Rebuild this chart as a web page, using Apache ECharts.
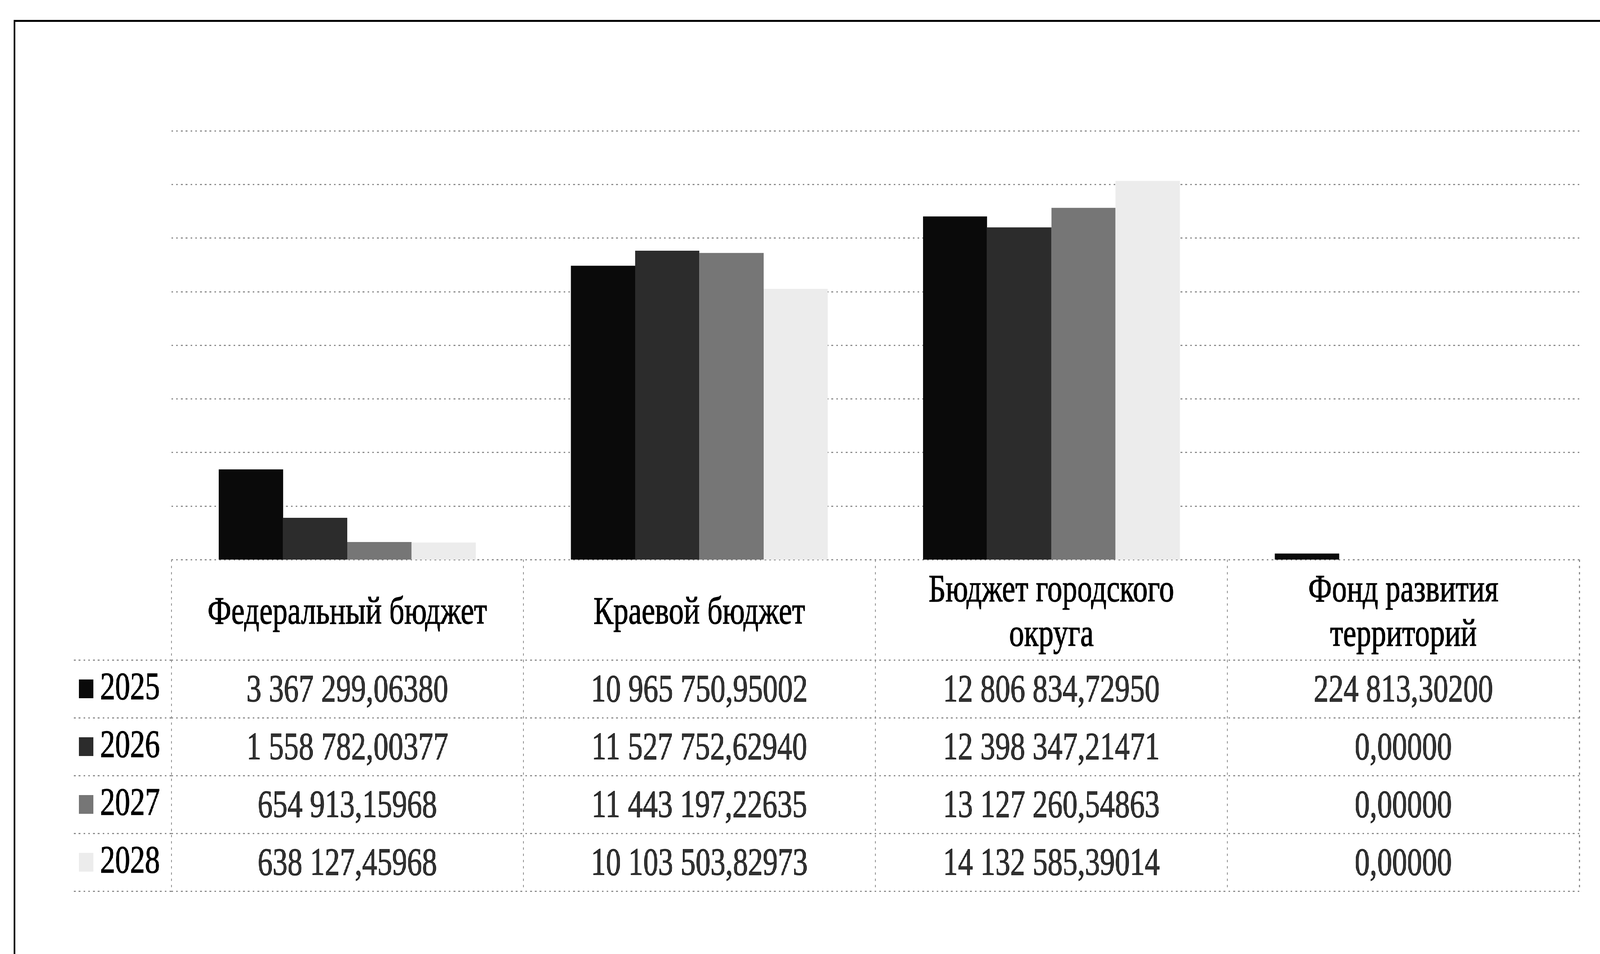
<!DOCTYPE html>
<html>
<head>
<meta charset="utf-8">
<script src="https://cdn.jsdelivr.net/npm/echarts@6/dist/echarts.min.js"></script>
<style>
html,body{margin:0;padding:0;background:#fff;overflow:hidden;width:100%;height:100%;}
#stage{position:absolute;left:0;top:0;width:5352px;height:2443px;transform-origin:0 0;}
#chart{position:absolute;left:0;top:0;width:5352px;height:2443px;}
#frame{position:absolute;left:46px;top:51px;width:5400px;height:2500px;border-top:5px solid #000;border-left:5px solid #000;pointer-events:none;}
</style>
</head>
<body>
<div id="stage">
  <div id="chart"></div>
  <div id="frame"></div>
</div>
<script>
// ---- data ----
const categories = ['Федеральный бюджет', 'Краевой бюджет', 'Бюджет городского\nокруга', 'Фонд развития\nтерриторий'];
const years = ['2025', '2026', '2027', '2028'];
const values2025 = [3367299.06380, 10965750.95002, 12806834.72950, 224813.30200];
const values2026 = [1558782.00377, 11527752.62940, 12398347.21471, 0.00000];
const values2027 = [654913.15968, 11443197.22635, 13127260.54863, 0.00000];
const values2028 = [638127.45968, 10103503.82973, 14132585.39014, 0.00000];
const yearValues = [values2025, values2026, values2027, values2028];
const yMax = 16000000;
const yInterval = 2000000;

// ---- fit the 5352x2443 design to the actual viewport ----
const DESIGN_W = 5352, DESIGN_H = 2443;
function fitStage() {
  const sx = window.innerWidth / DESIGN_W;
  const sy = window.innerHeight / DESIGN_H;
  document.getElementById('stage').style.transform = 'scale(' + sx + ',' + sy + ')';
}
fitStage();

// ---- styles ----
const colors = ['#0a0a0a', '#2c2c2c', '#767676', '#ececec'];
const FONT = 'Liberation Serif';
const FS = 100;
const TB = 1.5;
const rule = { color: '#8c8c8c', width: 3, type: [6, 10] };

function fmt(v) {
  const s = v.toFixed(5);
  const parts = s.split('.');
  return parts[0].replace(/\B(?=(\d{3})+(?!\d))/g, ' ') + ',' + parts[1];
}

const chart = echarts.init(document.getElementById('chart'), null, { renderer: 'canvas', width: DESIGN_W, height: DESIGN_H });

const barSeries = years.map((y, i) => ({
  name: y,
  type: 'bar',
  xAxisIndex: 0,
  yAxisIndex: 0,
  data: yearValues[i],
  barGap: '0%',
  barCategoryGap: '27%',
  itemStyle: { color: colors[i] },
  silent: true
}));

const cellData = [];
yearValues.forEach((arr, r) => {
  arr.forEach((v, c) => { cellData.push([c, r, v]); });
});

const rich = {
  t: { fontFamily: FONT, fontSize: FS, color: '#000', textBorderColor: '#000', textBorderWidth: TB,
       padding: [0, 0, 0, 23], lineHeight: 110, verticalAlign: 'middle' }
};
colors.forEach((c, i) => {
  rich['m' + i] = { width: 48, height: 48, backgroundColor: c, verticalAlign: 'middle', lineHeight: 110 };
});

const option = {
  backgroundColor: '#fff',
  animation: false,
  grid: [
    { left: 573, right: 69, top: 335, height: 1098, containLabel: false },
    { left: 573, right: 69, top: 1690, height: 592, containLabel: false }
  ],
  xAxis: [
    {
      type: 'category', gridIndex: 0, data: categories,
      axisLine: { show: false },
      axisTick: { show: true, interval: 0, length: 257, lineStyle: rule },
      axisLabel: {
        interval: 0, margin: 138, verticalAlign: 'middle',
        fontFamily: FONT, fontSize: FS, color: '#000', textBorderColor: '#000', textBorderWidth: TB,
        lineHeight: 114, align: 'center'
      },
      splitLine: { show: false }
    },
    {
      type: 'category', gridIndex: 1, data: categories, position: 'top',
      axisLine: { show: false }, axisTick: { show: false }, axisLabel: { show: false },
      splitLine: { show: true, interval: 0, lineStyle: rule }
    }
  ],
  yAxis: [
    {
      type: 'value', gridIndex: 0, min: 0, max: yMax, interval: yInterval,
      axisLine: { show: false }, axisTick: { show: false }, axisLabel: { show: false },
      splitLine: { show: true, lineStyle: rule }
    },
    {
      type: 'category', gridIndex: 1, data: years, inverse: true,
      axisLine: { show: false },
      axisTick: { show: true, interval: 0, length: 335, lineStyle: rule },
      axisLabel: {
        interval: 0, margin: 38,
        formatter: function (v, i) { return '{m' + i + '| }{t|' + v + '}'; },
        rich: rich
      },
      splitLine: { show: true, interval: 0, lineStyle: rule }
    }
  ],
  series: barSeries.concat([{
    type: 'scatter',
    xAxisIndex: 1,
    yAxisIndex: 1,
    data: cellData,
    symbol: 'rect',
    symbolSize: 1,
    itemStyle: { color: 'rgba(0,0,0,0)' },
    silent: true,
    label: {
      show: true, position: 'inside', offset: [0, 6],
      formatter: function (p) { return fmt(p.value[2]); },
      fontFamily: FONT, fontSize: FS, color: '#000', textBorderColor: '#000', textBorderWidth: TB
    }
  }])
};

chart.setOption(option);
window.addEventListener('resize', fitStage);
</script>
</body>
</html>
